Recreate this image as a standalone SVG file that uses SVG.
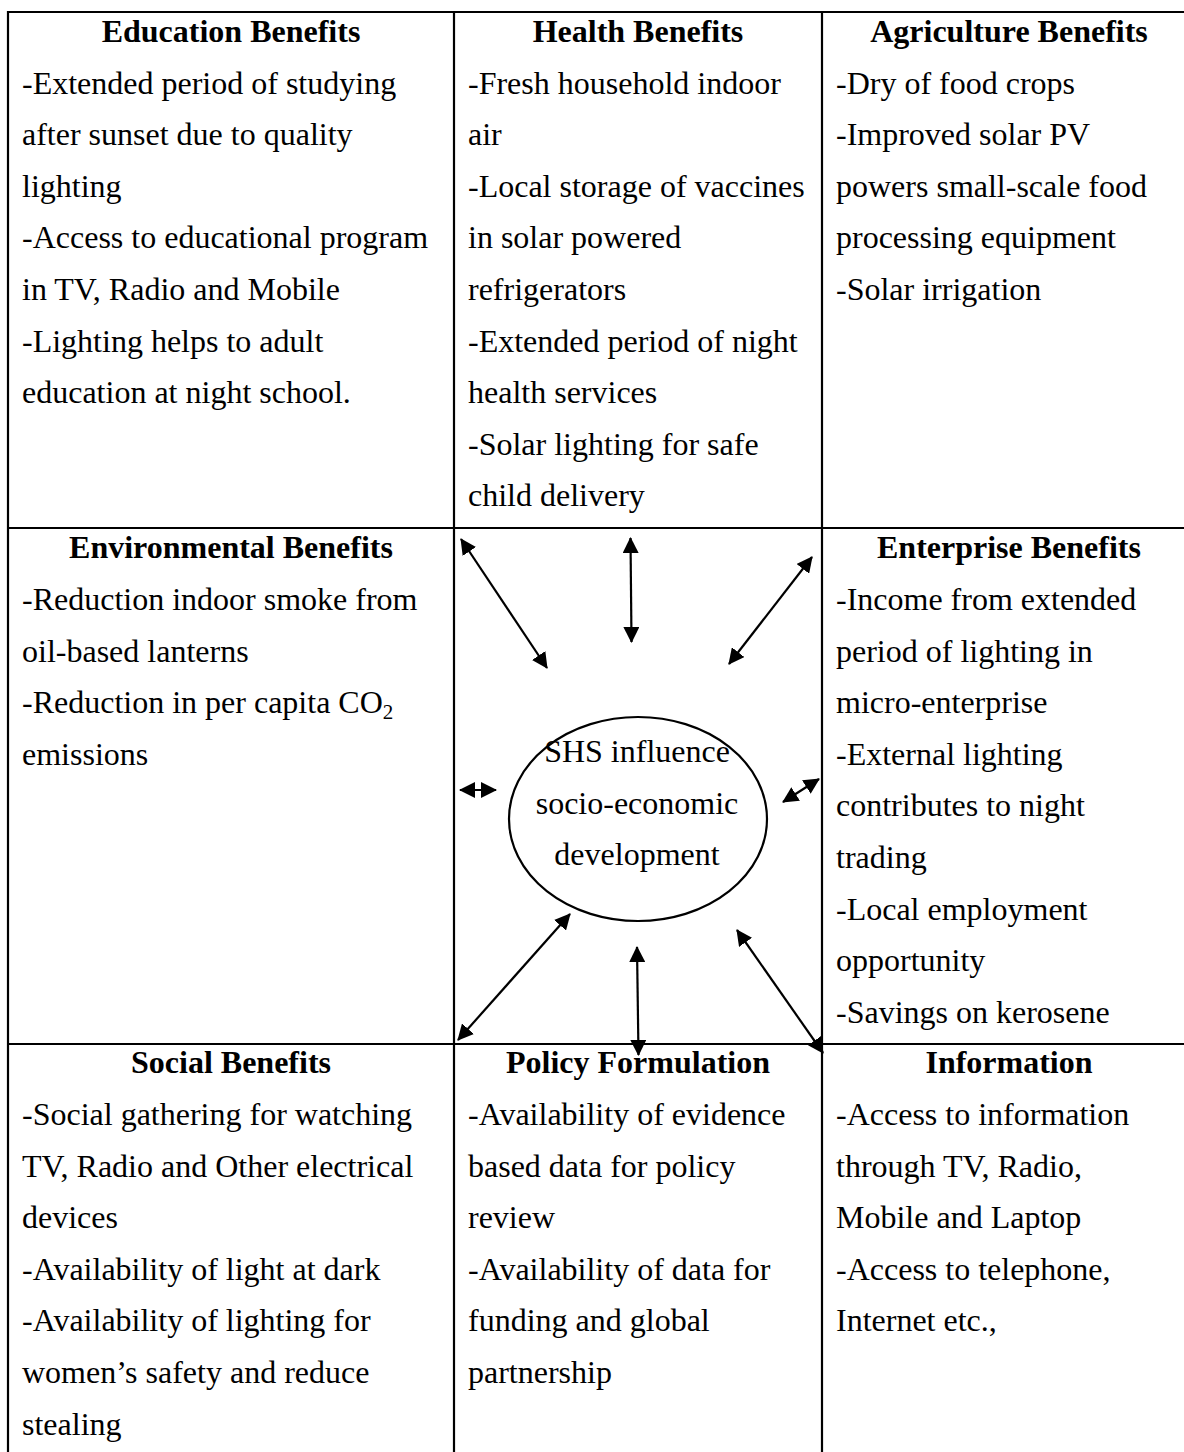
<svg xmlns="http://www.w3.org/2000/svg" width="1184" height="1452" viewBox="0 0 1184 1452">
<style>
  text { font-family: "Liberation Serif", "Times New Roman", serif; font-size: 32px; fill: #000; }
  .h { font-weight: bold; text-anchor: middle; }
  .grid line { stroke: #000; stroke-width: 2.2; }
  .arr { stroke: #000; stroke-width: 2.2; fill: none; marker-start: url(#ah); marker-end: url(#ah); }
</style>
<defs>
  <marker id="ah" viewBox="0 0 16 16" refX="15" refY="8" markerWidth="16" markerHeight="16" markerUnits="userSpaceOnUse" orient="auto-start-reverse">
    <path d="M0,0 L16,8 L0,16 Z" fill="#000"/>
  </marker>
</defs>
<rect width="1184" height="1452" fill="#fff"/>
<g class="grid" id="table">
  <line x1="7" y1="12" x2="1184" y2="12"/>
  <line x1="7" y1="528" x2="1184" y2="528"/>
  <line x1="7" y1="1044" x2="1184" y2="1044"/>
  <line x1="8" y1="11" x2="8" y2="1452"/>
  <line x1="454" y1="11" x2="454" y2="1452"/>
  <line x1="822" y1="11" x2="822" y2="1452"/>
</g>
<g id="education">
  <text class="h" x="231" y="42">Education Benefits</text>
  <text x="22" y="93.6">-Extended period of studying</text>
  <text x="22" y="145.2">after sunset due to quality</text>
  <text x="22" y="196.8">lighting</text>
  <text x="22" y="248.4">-Access to educational program</text>
  <text x="22" y="300">in TV, Radio and Mobile</text>
  <text x="22" y="351.6">-Lighting helps to adult</text>
  <text x="22" y="403.2">education at night school.</text>
</g>
<g id="health">
  <text class="h" x="638" y="42">Health Benefits</text>
  <text x="468" y="93.6">-Fresh household indoor</text>
  <text x="468" y="145.2">air</text>
  <text x="468" y="196.8">-Local storage of vaccines</text>
  <text x="468" y="248.4">in solar powered</text>
  <text x="468" y="300">refrigerators</text>
  <text x="468" y="351.6">-Extended period of night</text>
  <text x="468" y="403.2">health services</text>
  <text x="468" y="454.8">-Solar lighting for safe</text>
  <text x="468" y="506.4">child delivery</text>
</g>
<g id="agriculture">
  <text class="h" x="1009" y="42">Agriculture Benefits</text>
  <text x="836" y="93.6">-Dry of food crops</text>
  <text x="836" y="145.2">-Improved solar PV</text>
  <text x="836" y="196.8">powers small-scale food</text>
  <text x="836" y="248.4">processing equipment</text>
  <text x="836" y="300">-Solar irrigation</text>
</g>
<g id="environmental">
  <text class="h" x="231" y="558.3">Environmental Benefits</text>
  <text x="22" y="609.9">-Reduction indoor smoke from</text>
  <text x="22" y="661.5">oil-based lanterns</text>
  <text x="22" y="713.1">-Reduction in per capita CO<tspan font-size="21" dy="6">2</tspan></text>
  <text x="22" y="764.7">emissions</text>
</g>
<g id="enterprise">
  <text class="h" x="1009" y="558.3">Enterprise Benefits</text>
  <text x="836" y="609.9">-Income from extended</text>
  <text x="836" y="661.5">period of lighting in</text>
  <text x="836" y="713.1">micro-enterprise</text>
  <text x="836" y="764.7">-External lighting</text>
  <text x="836" y="816.3">contributes to night</text>
  <text x="836" y="867.9">trading</text>
  <text x="836" y="919.5">-Local employment</text>
  <text x="836" y="971.1">opportunity</text>
  <text x="836" y="1022.7">-Savings on kerosene</text>
</g>
<g id="center">
  <ellipse cx="638" cy="819" rx="129" ry="102" fill="none" stroke="#000" stroke-width="2.2"/>
  <text x="637" y="762" text-anchor="middle">SHS influence</text>
  <text x="637" y="814" text-anchor="middle">socio-economic</text>
  <text x="637" y="865" text-anchor="middle">development</text>
</g>
<g id="social">
  <text class="h" x="231" y="1073.3">Social Benefits</text>
  <text x="22" y="1124.9">-Social gathering for watching</text>
  <text x="22" y="1176.5">TV, Radio and Other electrical</text>
  <text x="22" y="1228.1">devices</text>
  <text x="22" y="1279.7">-Availability of light at dark</text>
  <text x="22" y="1331.3">-Availability of lighting for</text>
  <text x="22" y="1382.9">women’s safety and reduce</text>
  <text x="22" y="1434.5">stealing</text>
</g>
<g id="policy">
  <text class="h" x="638" y="1073.3">Policy Formulation</text>
  <text x="468" y="1124.9">-Availability of evidence</text>
  <text x="468" y="1176.5">based data for policy</text>
  <text x="468" y="1228.1">review</text>
  <text x="468" y="1279.7">-Availability of data for</text>
  <text x="468" y="1331.3">funding and global</text>
  <text x="468" y="1382.9">partnership</text>
</g>
<g id="information">
  <text class="h" x="1009" y="1073.3">Information</text>
  <text x="836" y="1124.9">-Access to information</text>
  <text x="836" y="1176.5">through TV, Radio,</text>
  <text x="836" y="1228.1">Mobile and Laptop</text>
  <text x="836" y="1279.7">-Access to telephone,</text>
  <text x="836" y="1331.3">Internet etc.,</text>
</g>
<g id="connectors">
  <line class="arr" x1="547" y1="668" x2="461" y2="539"/>
  <line class="arr" x1="631.5" y1="642" x2="630.5" y2="538"/>
  <line class="arr" x1="729" y1="664" x2="812" y2="557"/>
  <line class="arr" x1="460" y1="790" x2="496" y2="790"/>
  <line class="arr" x1="783" y1="802" x2="819" y2="779"/>
  <line class="arr" x1="570" y1="914" x2="458" y2="1040"/>
  <line class="arr" x1="637" y1="947" x2="638.5" y2="1055"/>
  <line class="arr" x1="737" y1="930" x2="823" y2="1053"/>
</g>
</svg>
